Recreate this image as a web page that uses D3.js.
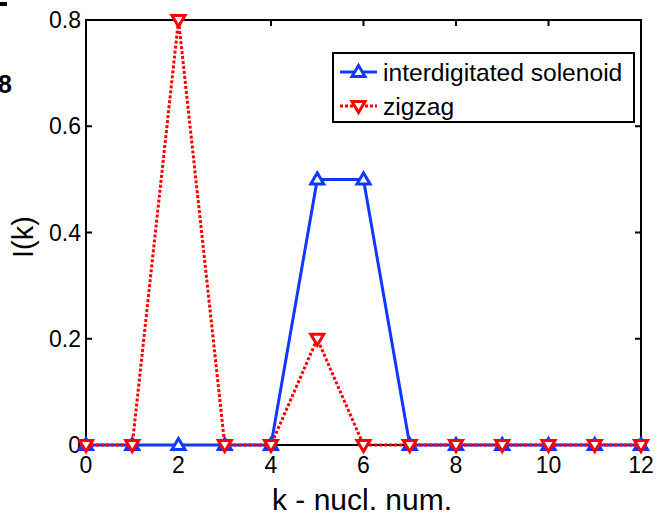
<!DOCTYPE html>
<html><head><meta charset="utf-8">
<script src="https://cdn.jsdelivr.net/npm/d3@7"></script>
<style>body{margin:0;background:#fff}svg{display:block}text{font-family:"Liberation Sans",Arial,sans-serif}</style>
</head><body><svg id="c" width="660" height="516"></svg>
<script>
const kValues = [0,1,2,3,4,5,6,7,8,9,10,11,12];
const solenoid = [0,0,0,0,0,0.5,0.5,0,0,0,0,0,0];
const zigzag = [0,0,0.8,0,0,0.2,0,0,0,0,0,0,0];
const xTicks = [0,2,4,6,8,10,12];
const yTicks = [0,0.2,0.4,0.6,0.8];
const seriesNames = ["interdigitated solenoid","zigzag"];

const svg = d3.select("#c");
const L=86, R=641, T=20, B=445;
const x = d3.scaleLinear().domain([0,12]).range([L,R]);
const y = d3.scaleLinear().domain([0,0.8]).range([B,T]);

// clipped artifacts from neighbouring panel
svg.append("rect").attr("x",0).attr("y",2).attr("width",7).attr("height",4).attr("fill","#000");
svg.append("text").attr("x",-2).attr("y",93).attr("font-size",25).attr("font-weight","bold").text("8");

const g = svg.append("g");
g.append("rect").attr("x",L).attr("y",T).attr("width",R-L).attr("height",B-T)
  .attr("fill","none").attr("stroke","#000").attr("stroke-width",2);
xTicks.forEach(t=>{
  g.append("line").attr("x1",x(t)).attr("x2",x(t)).attr("y1",B).attr("y2",B-6).attr("stroke","#000").attr("stroke-width",2);
  g.append("line").attr("x1",x(t)).attr("x2",x(t)).attr("y1",T).attr("y2",T+6).attr("stroke","#000").attr("stroke-width",2);
  g.append("text").attr("x",x(t)).attr("y",473).attr("text-anchor","middle").attr("font-size",23).text(t);
});
yTicks.forEach(t=>{
  g.append("line").attr("x1",L).attr("x2",L+6).attr("y1",y(t)).attr("y2",y(t)).attr("stroke","#000").attr("stroke-width",2);
  g.append("line").attr("x1",R).attr("x2",R-6).attr("y1",y(t)).attr("y2",y(t)).attr("stroke","#000").attr("stroke-width",2);
  g.append("text").attr("x",81).attr("y",y(t)+8).attr("text-anchor","end").attr("font-size",23).text(t===0?"0":t.toFixed(1));
});
svg.append("text").attr("x",362).attr("y",510).attr("text-anchor","middle").attr("font-size",30).text("k - nucl. num.");
svg.append("text").attr("transform","translate(33,237) rotate(-90)").attr("text-anchor","middle").attr("font-size",29).text("I(k)");

const blue="#1238ff", red="#ff0000";
const line = d3.line().x((d,i)=>x(kValues[i])).y(d=>y(d));
const tri = (cx,cy,up)=> up ? `M${cx},${cy-6.5}L${cx+6.5},${cy+4.5}L${cx-6.5},${cy+4.5}Z` : `M${cx},${cy+6.5}L${cx+6.5},${cy-4.5}L${cx-6.5},${cy-4.5}Z`;

svg.append("path").attr("d",line(solenoid)).attr("fill","none").attr("stroke",blue).attr("stroke-width",3);
solenoid.forEach((v,i)=>svg.append("path").attr("d",tri(x(kValues[i]),y(v),true)).attr("fill","#fff").attr("stroke",blue).attr("stroke-width",3));
svg.append("path").attr("d",line(zigzag)).attr("fill","none").attr("stroke",red).attr("stroke-width",3).attr("stroke-dasharray","3,2");
zigzag.forEach((v,i)=>svg.append("path").attr("d",tri(x(kValues[i]),y(v),false)).attr("fill","#fff").attr("stroke",red).attr("stroke-width",3));

const lg = svg.append("g");
lg.append("rect").attr("x",333).attr("y",53).attr("width",301).attr("height",69).attr("fill","#fff").attr("stroke","#000").attr("stroke-width",2);
const rows=[{c:blue,up:true,dash:null,yy:72},{c:red,up:false,dash:"3,2",yy:106}];
rows.forEach((r,i)=>{
  lg.append("line").attr("x1",340).attr("x2",377).attr("y1",r.yy).attr("y2",r.yy).attr("stroke",r.c).attr("stroke-width",3).attr("stroke-dasharray",r.dash);
  lg.append("path").attr("d",tri(358.5,r.yy,r.up)).attr("fill","#fff").attr("stroke",r.c).attr("stroke-width",3);
  lg.append("text").attr("x",383).attr("y",r.yy+8.5).attr("font-size",24.6).text(seriesNames[i]);
});
</script></body></html>
